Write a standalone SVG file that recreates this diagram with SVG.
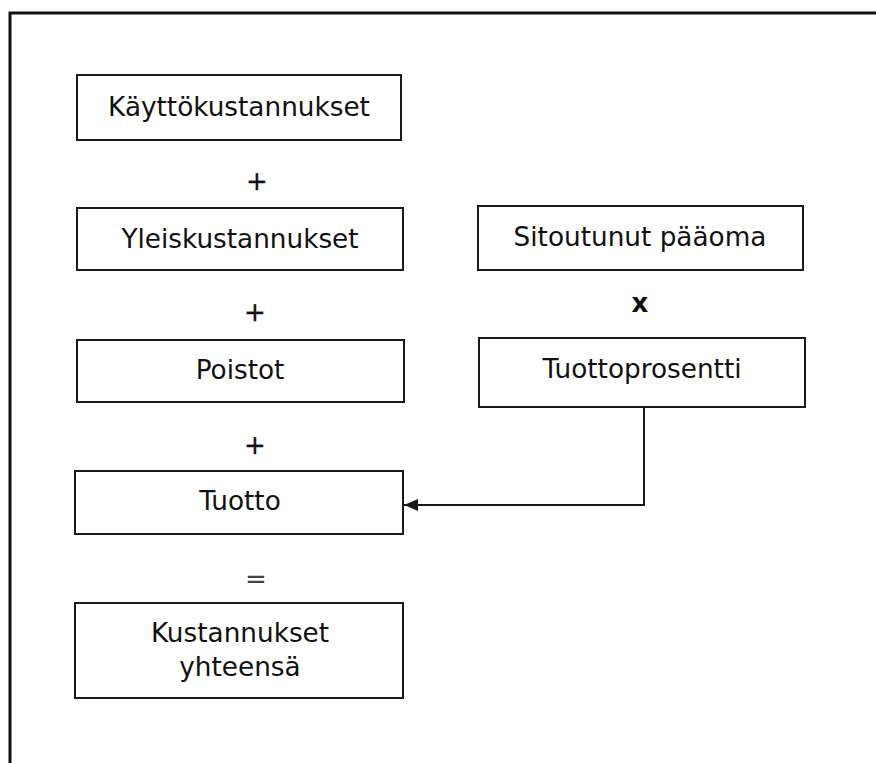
<svg xmlns="http://www.w3.org/2000/svg" width="876" height="763" viewBox="0 0 876 763">
<style>
.box{fill:#fff;stroke:#1a1a1a;stroke-width:2}
.t{font-family:"DejaVu Sans",Verdana,sans-serif;font-size:26.3px;fill:#111;text-anchor:middle;dominant-baseline:central}
.op{font-family:"DejaVu Sans",Verdana,sans-serif;font-size:26px;fill:#111;text-anchor:middle;dominant-baseline:central;stroke:#111;stroke-width:0.3}
.bold{font-weight:bold;stroke:none}
.eq{fill:#444;stroke:none}
.conn{fill:none;stroke:#1a1a1a;stroke-width:2}
</style>
<defs>
<marker id="arr" markerWidth="14" markerHeight="12" refX="14" refY="6" orient="auto" markerUnits="userSpaceOnUse">
<path d="M0,0 L14,6 L0,12 Z" fill="#1a1a1a"/>
</marker>
</defs>
<rect width="876" height="763" fill="#fff"/>
<g id="frame"><path d="M10,763 V13 H876" fill="none" stroke="#111" stroke-width="3"/></g>
<g id="n1"><rect class="box" x="77" y="75" width="324" height="65"/><text class="t" x="239" y="107">Käyttökustannukset</text></g>
<g id="n2"><rect class="box" x="77" y="208" width="326" height="62"/><text class="t" x="240" y="239">Yleiskustannukset</text></g>
<g id="n3"><rect class="box" x="77" y="340" width="327" height="62"/><text class="t" x="240" y="370">Poistot</text></g>
<g id="n4"><rect class="box" x="75" y="471" width="328" height="63"/><text class="t" x="240" y="501">Tuotto</text></g>
<g id="n5"><rect class="box" x="75" y="603" width="328" height="95"/><text class="t" x="240" y="633">Kustannukset</text><text class="t" x="240" y="667">yhteensä</text></g>
<g id="n6"><rect class="box" x="478" y="206" width="325" height="64"/><text class="t" x="640" y="237">Sitoutunut pääoma</text></g>
<g id="n7"><rect class="box" x="479" y="338" width="326" height="69"/><text class="t" x="642" y="369">Tuottoprosentti</text></g>
<g id="ops">
<text class="op" x="257" y="181">+</text>
<text class="op" x="255" y="312">+</text>
<text class="op" x="255" y="445">+</text>
<text class="op eq" x="256" y="579">=</text>
<text class="op bold" x="640" y="303">x</text>
</g>
<g id="connectors"><path class="conn" d="M644,407 V505 H404" marker-end="url(#arr)"/></g>
</svg>
